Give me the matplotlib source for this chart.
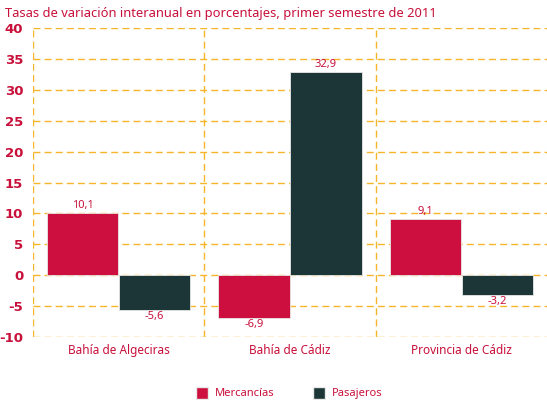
import numpy as np
import matplotlib.pyplot as plt
from matplotlib.patches import Patch

# Datos
categorias = ["Bahía de Algeciras", "Bahía de Cádiz", "Provincia de Cádiz"]
mercancias = [10.1, -6.9, 9.1]
pasajeros = [-5.6, 32.9, -3.2]
series = ["Mercancías", "Pasajeros"]

ROJO = "#CC0F3F"
VERDE = "#1C3537"
TEXTO = "#C8103A"
REJILLA = "#F7B52C"

plt.rcParams["font.family"] = ["Noto Sans", "DejaVu Sans"]

fig = plt.figure(figsize=(5.47, 4.0), dpi=100)
ax = fig.add_axes([33 / 547, 1 - 337 / 400, 1 - 33 / 547, (337 - 28) / 400])

x = np.arange(len(categorias))
w = 0.415
off = 0.21

b1 = ax.bar(x - off, mercancias, w, color=ROJO, edgecolor="#E8E8E8", linewidth=0.6, zorder=3)
b2 = ax.bar(x + off, pasajeros, w, color=VERDE, edgecolor="#E8E8E8", linewidth=0.6, zorder=3)

for barras, vals in ((b1, mercancias), (b2, pasajeros)):
    for b, v in zip(barras, vals):
        xc = b.get_x() + b.get_width() / 2
        txt = f"{v:.1f}".replace(".", ",")
        if v >= 0:
            ax.annotate(txt, (xc, v), xytext=(0, 1.5), textcoords="offset points",
                        ha="center", va="bottom", color=TEXTO, fontsize=8)
        else:
            ax.annotate(txt, (xc, v), xytext=(0, -1), textcoords="offset points",
                        ha="center", va="top", color=TEXTO, fontsize=8)

ax.set_xlim(-0.5, 2.5)
ax.set_ylim(-10, 40)
ax.set_yticks(np.arange(-10, 41, 5))
ax.set_yticklabels([str(t) for t in range(-10, 41, 5)], color=TEXTO,
                   fontweight="bold", fontsize=9.5, family="DejaVu Sans")
ax.set_xticks(x)
ax.set_xticklabels(categorias, color=TEXTO, fontsize=8.5)
ax.tick_params(length=0, pad=7)
ax.tick_params(axis="x", pad=5)

for s in ax.spines.values():
    s.set_visible(False)

for yv in range(-10, 41, 5):
    ax.axhline(yv, color=REJILLA, linestyle=(0, (5, 3)), linewidth=1.0, zorder=1)
for xv in [-0.5, 0.5, 1.5]:
    ax.axvline(xv, color=REJILLA, linestyle=(0, (5, 3)), linewidth=1.0, zorder=1)

fig.text(5 / 547, 1 - 13 / 400, "Tasas de variación interanual en porcentajes, primer semestre de 2011",
         color=TEXTO, fontsize=9.3, ha="left", va="center")

handles = [Patch(facecolor=ROJO, edgecolor="#E8E8E8"), Patch(facecolor=VERDE, edgecolor="#E8E8E8")]
fig.legend(handles, series, loc="center", bbox_to_anchor=(289 / 547, 1 - 393 / 400),
           ncol=2, frameon=False, fontsize=8, labelcolor=TEXTO,
           handlelength=1.1, handleheight=1.3, handletextpad=0.6, columnspacing=3.5)

fig.savefig("out.png", dpi=100)
